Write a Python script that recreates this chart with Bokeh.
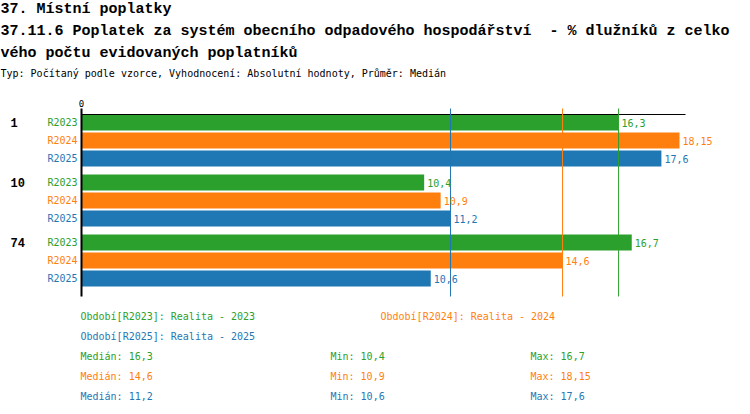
import numpy as np

from bokeh.plotting import figure
from bokeh.models import ColumnDataSource, Range1d, Label, LabelSet
from bokeh.core.properties import value, field
from bokeh.embed import file_html
from bokeh.resources import INLINE


title_1 = "37. Místní poplatky"
title_2 = "37.11.6 Poplatek za systém obecního odpadového hospodářství \u00a0- % dlužníků z celko"
title_3 = "vého počtu evidovaných poplatníků"
subtitle = "Typ: Počítaný podle vzorce, Vyhodnocení: Absolutní hodnoty, Průměr: Medián"

groups = ["1", "10", "74"]
periods = ["R2023", "R2024", "R2025"]
period_names = ["Realita - 2023", "Realita - 2024", "Realita - 2025"]
r2023 = [16.3, 10.4, 16.7]
r2024 = [18.15, 10.9, 14.6]
r2025 = [17.6, 11.2, 10.6]
colors = ["#2ca02c", "#ff7f0e", "#1f77b4"]

series = [r2023, r2024, r2025]


def cz(v):
    return ("%g" % v).replace(".", ",")


# page layout, in pixels
W, H = 750, 414
PLOT_L, PLOT_R = 81, 685
PLOT_T, PLOT_B = 108, 296
AXIS_Y = 114
ROW_PX = 18
ROW0 = 122
GROUP_STEP = 60 / ROW_PX

x_max = max(max(s) for s in series) * 1.01


def fx(px):
    return (px - PLOT_L) / (PLOT_R - PLOT_L) * x_max


def fy(py):
    return (py - ROW0) / ROW_PX


rows, vals, cols, per, txt = [], [], [], [], []
for g in range(len(groups)):
    for s in range(len(periods)):
        rows.append(g * GROUP_STEP + s)
        vals.append(series[s][g])
        cols.append(colors[s])
        per.append(periods[s])
        txt.append(cz(series[s][g]))

src = ColumnDataSource(dict(row=rows, value=vals, color=cols, period=per, text=txt))

p = figure(width=W, height=H, output_backend="svg", toolbar_location=None, title=None,
           x_range=Range1d(fx(0), fx(W)), y_range=Range1d(fy(H), fy(0)),
           min_border=0)
p.outline_line_color = None
p.axis.visible = False
p.grid.visible = False

p.hbar(y="row", left=0, right="value", height=16 / ROW_PX, color="color", line_color=None, source=src)

# axes
p.segment(x0=[0], y0=[fy(AXIS_Y)], x1=[x_max], y1=[fy(AXIS_Y)], line_color="black", line_width=1)
p.segment(x0=[0], y0=[fy(PLOT_T)], x1=[0], y1=[fy(PLOT_B)], line_color="black", line_width=2)
p.add_layout(Label(x=0, y=fy(PLOT_T), y_offset=2, text="0", text_align="center",
                   text_baseline="bottom", text_font="DejaVu Sans Mono",
                   text_font_size="9px", text_color="black"))

# median lines
stats = [(np.median(s), min(s), max(s)) for s in series]
meds = [st[0] for st in stats]
p.segment(x0=meds, y0=[fy(PLOT_T)] * 3, x1=meds, y1=[fy(PLOT_B)] * 3,
          line_color=colors, line_width=1)

mono = value("DejaVu Sans Mono")
p.add_layout(LabelSet(x="value", y="row", text="text", x_offset=3, source=src,
                      text_baseline="middle", text_color=field("color"),
                      text_font=mono, text_font_size="10px"))
p.add_layout(LabelSet(x=0, y="row", text="period", x_offset=-4, source=src,
                      text_align="right", text_baseline="middle", text_color=field("color"),
                      text_font=mono, text_font_size="10px"))

for g, name in enumerate(groups):
    p.add_layout(Label(x=fx(10), y=g * GROUP_STEP, text=name, text_baseline="middle",
                       text_font="Liberation Mono", text_font_style="bold",
                       text_font_size="12px", text_color="black"))

# header
for text, py in [(title_1, 9), (title_2, 31), (title_3, 53)]:
    p.add_layout(Label(x=fx(0), y=fy(py), text=text, text_baseline="middle",
                       text_font="Liberation Mono", text_font_style="bold",
                       text_font_size="15px", text_color="black"))
p.add_layout(Label(x=fx(0), y=fy(73), text=subtitle, text_baseline="middle",
                   text_font="DejaVu Sans Mono", text_font_size="10px", text_color="black"))

# footer legend
legend_pos = [(80, 316), (380, 316), (80, 336)]
for (px, py), code, name, c in zip(legend_pos, periods, period_names, colors):
    p.add_layout(Label(x=fx(px), y=fy(py), text="Období[%s]: %s" % (code, name),
                       text_baseline="middle", text_font="DejaVu Sans Mono",
                       text_font_size="10px", text_color=c))

for i, ((med, mn, mx), c) in enumerate(zip(stats, colors)):
    py = 356 + 20 * i
    for px, t in [(80, "Medián: " + cz(med)), (330, "Min: " + cz(mn)), (530, "Max: " + cz(mx))]:
        p.add_layout(Label(x=fx(px), y=fy(py), text=t, text_baseline="middle",
                           text_font="DejaVu Sans Mono", text_font_size="10px", text_color=c))

open("out.html", "w").write(file_html(p, INLINE))
